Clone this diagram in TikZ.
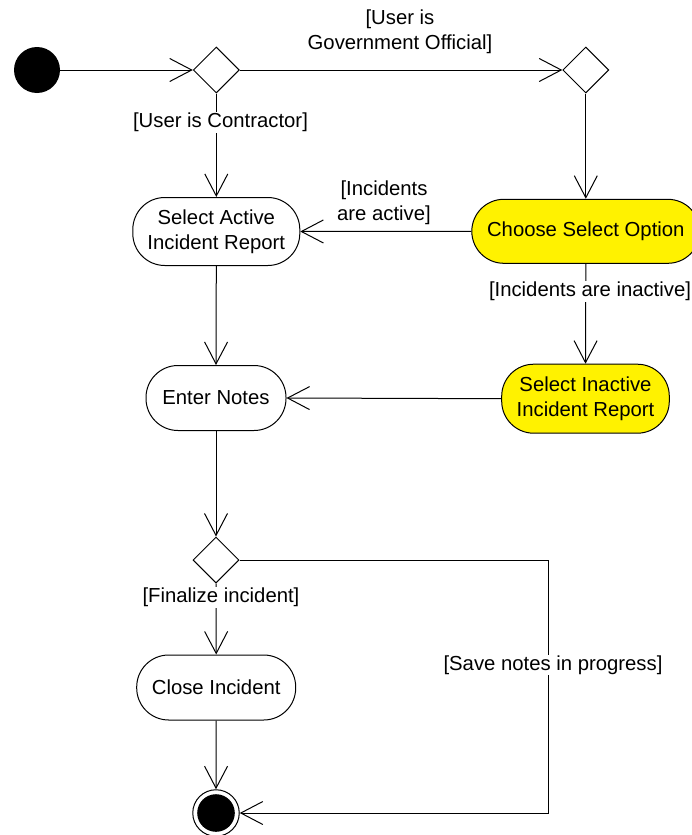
\documentclass[tikz,border=0pt]{standalone}
\usepackage{fontspec}
\setmainfont{Liberation Sans}
\usetikzlibrary{arrows.meta,shapes.geometric}

\tikzset{
  every node/.style={font=\fontsize{20.3}{25}\selectfont},
  flow/.style={draw=black, line width=1pt, -{Straight Barb[length=22pt,width=23pt]}},
  action/.style={draw=black, line width=1pt, rectangle, rounded corners=32pt,
                 minimum height=64pt, align=center, inner sep=2pt},
  hot/.style={action, fill=yellow},
  decision/.style={draw=black, line width=1pt, diamond, aspect=1, fill=white,
                   minimum width=46pt, minimum height=46pt, inner sep=0pt},
  guard/.style={fill=white, inner sep=1pt, align=center},
  guardtext/.style={inner sep=1pt, align=center}
}

\begin{document}
\begin{tikzpicture}[x=1pt,y=-1pt]
  \useasboundingbox[fill=white] (0,0) rectangle (692,835);

  % start and end states
  \node[circle, fill=black, minimum size=46pt, inner sep=0pt] (start) at (37,70) {};
  \node[circle, draw=black, line width=1pt, fill=white, minimum size=46.5pt, inner sep=0pt] (fin) at (216,813) {};
  \fill[black] (fin.center) circle (18.8);

  % decisions
  \node[decision] (d1) at (216.3,70) {};
  \node[decision] (d2) at (585.8,70) {};
  \node[decision] (d3) at (216,560) {};

  % actions
  \node[action, minimum width=167pt, minimum height=68pt] (sa) at (216.3,231.5) {Select Active\\Incident Report};
  \node[hot, minimum width=228pt] (cso) at (585.8,231.3) {Choose Select Option};
  \node[hot, minimum width=167.6pt, minimum height=69pt] (si) at (585.5,398.7) {Select Inactive\\Incident Report};
  \node[action, minimum width=140pt, minimum height=65pt] (en) at (216,398) {Enter Notes};
  \node[action, minimum width=159pt, minimum height=65pt] (ci) at (216.2,687.5) {Close Incident};

  % bends of the loop back to the end state
  \coordinate (c1) at (548.3,560);
  \coordinate (c2) at (548.3,813);

  % transitions
  \draw[flow] (start) -- (d1.west);
  \draw[flow] (d1.east) -- (d2.west);
  \draw[flow] (d1.south) -- (sa.north);
  \draw[flow] (d2.south) -- (cso.north);
  \draw[flow] (cso.west) -- (sa.east);
  \draw[flow] (cso.south) -- (si.north);
  \draw[flow] (si.west) -- (en.east);
  \draw[flow] (sa.south) -- (en.north);
  \draw[flow] (en.south) -- (d3.north);
  \draw[flow] (d3.south) -- (ci.north);
  \draw[flow] (ci.south) -- (fin.north);
  \draw[flow] (d3.east) -- (c1) -- (c2) -- (fin.east);

  % guard labels
  \node[guardtext] (gGov) at (400,32) {[User is\\Government Official]};
  \node[guard] (gCon) at (220.5,122.5) {[User is Contractor]};
  \node[guardtext] (gAct) at (384,202.5) {[Incidents\\are active]};
  \node[guard] (gInact) at (590,291.5) {[Incidents are inactive]};
  \node[guard] (gFin) at (221,597.5) {[Finalize incident]};
  \node[guard] (gSave) at (553,665) {[Save notes in progress]};
\end{tikzpicture}
\end{document}
